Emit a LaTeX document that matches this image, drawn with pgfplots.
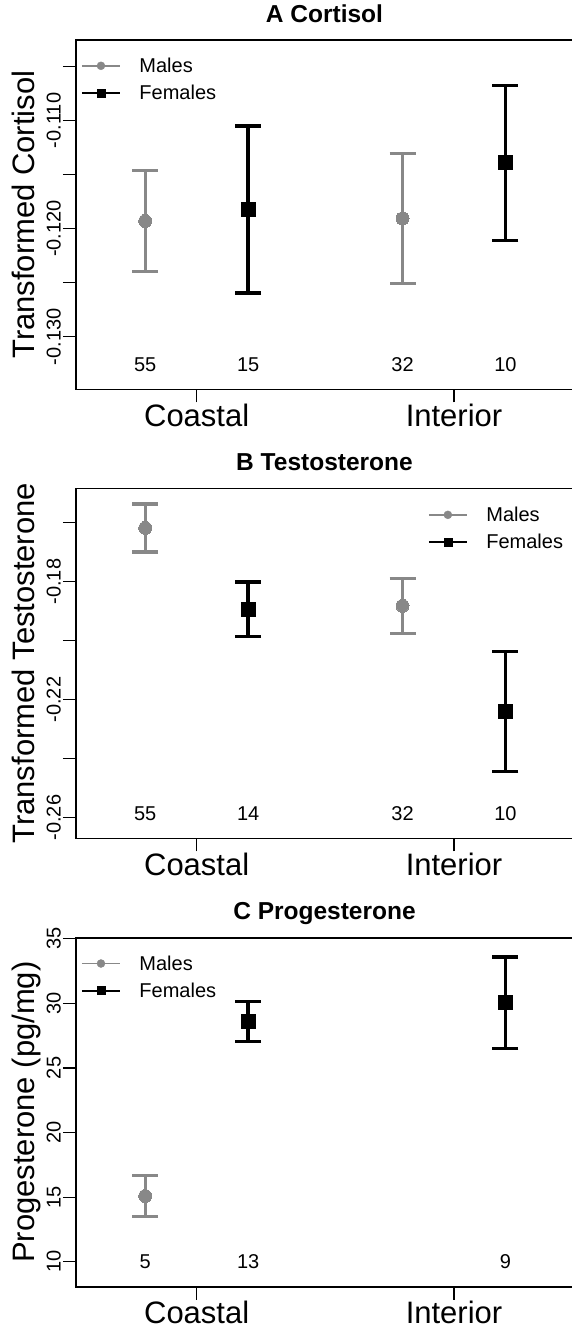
\documentclass[border=0pt]{standalone}
\usepackage{pgfplots}
\usepackage{pgfplotstable}
\pgfplotsset{compat=1.18}
\usepackage{fontspec}
\setmainfont{Liberation Sans}
\definecolor{mgray}{RGB}{136,136,136}

\pgfplotstableread{
x y e
0.8 -0.11930 0.0047
1.8 -0.11907 0.00602
}\AMales
\pgfplotstableread{
x y e
1.2 -0.11824 0.00774
2.2 -0.11393 0.00716
}\AFemales
\pgfplotstableread{
x y e
0.8 -0.16183 0.00812
1.8 -0.18822 0.0093
}\BMales
\pgfplotstableread{
x y e
1.2 -0.18934 0.0092
2.2 -0.2240 0.0203
}\BFemales
\pgfplotstableread{
x y e
0.8 15.09 1.575
}\CMales
\pgfplotstableread{
x y e
1.2 28.58 1.545
2.2 30.05 3.55
}\CFemales

\tikzset{nlab/.style={font=\fontsize{20}{24}\selectfont, inner sep=0pt, anchor=center}}
\pgfplotsset{
 panel/.style={
   scale only axis, width=497pt,
   xmin=0.531, xmax=2.4625,
   xtick={1,2}, xticklabels={Coastal,Interior},
   axis line style={line width=1.6pt},
   tick style={line width=1.2pt, black},
   major tick length=13pt, tick align=outside,
   xtick pos=left, ytick pos=left,
   xticklabel style={font=\fontsize{31}{36}\selectfont, anchor=base, inner sep=0pt, yshift=-23.7pt},
   yticklabel style={font=\fontsize{20}{24}\selectfont, xshift=-2pt, rotate=90, anchor=south, inner sep=0pt},
   every axis y label/.style={at={(axis description cs:-0.0825,0.5)}, rotate=90, anchor=base, font=\fontsize{31}{36}\selectfont},
   title style={at={(axis description cs:0.5,1)}, anchor=base, yshift=11.8pt, font=\fontsize{24.5}{28}\selectfont\bfseries},
   legend style={draw=none, fill=none, inner sep=0pt, outer sep=0pt, font=\fontsize{20}{24}\selectfont, row sep=11.1pt, column sep=18.5pt, nodes={inner sep=0pt}},
   legend cell align=left,
   clip=false,
 },
 merr/.style={only marks, mgray, mark=*, mark size=6.5pt, mark options={fill=mgray, draw=mgray, line width=0pt},
   error bars/.cd, y dir=both, y explicit, error mark=|,
   error bar style={line width=3.2pt, mgray},
   error mark options={mark size=13pt, line width=3.2pt, mgray}, /pgfplots/.cd},
 ferr/.style={only marks, black, mark=square*, mark size=7pt, mark options={fill=black, draw=black, line width=0pt},
   error bars/.cd, y dir=both, y explicit, error mark=|,
   error bar style={line width=3.4pt, black},
   error mark options={mark size=13pt, line width=3.4pt, black}, /pgfplots/.cd},
}

\begin{document}
\begin{tikzpicture}
\path[use as bounding box] (0,0) rectangle (571pt,-1328pt);

% Panel A
\begin{axis}[panel, at={(76pt,-40pt)}, anchor=north west, height=349.3pt,
  ymin=-0.13487, ymax=-0.10256,
  ytick={-0.130,-0.125,-0.120,-0.115,-0.110,-0.105},
  yticklabels={{-0.130},{},{-0.120},{},{-0.110},{}},
  ylabel={Transformed Cortisol},
  title={A Cortisol},
  legend style={at={(axis description cs:0.01,0.949)}, anchor=north west}]
\addlegendimage{legend image code/.code={\draw[mgray,line width=1.5pt] (0pt,0pt)--(38pt,0pt); \fill[mgray] (19pt,0pt) circle (4pt);}}
\addlegendentry{Males}
\addlegendimage{legend image code/.code={\draw[black,line width=2pt] (0pt,0pt)--(38pt,0pt); \fill[black] (15pt,-4pt) rectangle (23pt,4pt);}}
\addlegendentry{Females}
\addplot[forget plot, merr] table[x=x,y=y,y error=e]{\AMales};
\addplot[forget plot, ferr] table[x=x,y=y,y error=e]{\AFemales};
\node[nlab] at (axis cs:0.8,-0.13259) {55};
\node[nlab] at (axis cs:1.2,-0.13259) {15};
\node[nlab] at (axis cs:1.8,-0.13259) {32};
\node[nlab] at (axis cs:2.2,-0.13259) {10};
\end{axis}

% Panel B
\begin{axis}[panel, at={(76pt,-488.3pt)}, anchor=north west, height=350pt,
  ymin=-0.267, ymax=-0.1484,
  ytick={-0.26,-0.24,-0.22,-0.20,-0.18,-0.16},
  yticklabels={{-0.26},{},{-0.22},{},{-0.18},{}},
  ylabel={Transformed Testosterone},
  title={B Testosterone},
  legend style={at={(axis description cs:0.708,0.947)}, anchor=north west}]
\addlegendimage{legend image code/.code={\draw[mgray,line width=1.5pt] (0pt,0pt)--(38pt,0pt); \fill[mgray] (19pt,0pt) circle (4pt);}}
\addlegendentry{Males}
\addlegendimage{legend image code/.code={\draw[black,line width=2pt] (0pt,0pt)--(38pt,0pt); \fill[black] (15pt,-4pt) rectangle (23pt,4pt);}}
\addlegendentry{Females}
\addplot[forget plot, merr] table[x=x,y=y,y error=e]{\BMales};
\addplot[forget plot, ferr] table[x=x,y=y,y error=e]{\BFemales};
\node[nlab] at (axis cs:0.8,-0.2585) {55};
\node[nlab] at (axis cs:1.2,-0.2585) {14};
\node[nlab] at (axis cs:1.8,-0.2585) {32};
\node[nlab] at (axis cs:2.2,-0.2585) {10};
\end{axis}

% Panel C
\begin{axis}[panel, at={(76pt,-937.7pt)}, anchor=north west, height=349pt,
  ymin=8.07, ymax=35.08,
  ytick={10,15,20,25,30,35},
  yticklabels={{10},{15},{20},{25},{30},{35}},
  ylabel={Progesterone (pg/mg)},
  title={C Progesterone},
  legend style={at={(axis description cs:0.01,0.949)}, anchor=north west}]
\addlegendimage{legend image code/.code={\draw[mgray,line width=1.5pt] (0pt,0pt)--(38pt,0pt); \fill[mgray] (19pt,0pt) circle (4pt);}}
\addlegendentry{Males}
\addlegendimage{legend image code/.code={\draw[black,line width=2pt] (0pt,0pt)--(38pt,0pt); \fill[black] (15pt,-4pt) rectangle (23pt,4pt);}}
\addlegendentry{Females}
\addplot[forget plot, merr] table[x=x,y=y,y error=e]{\CMales};
\addplot[forget plot, ferr] table[x=x,y=y,y error=e]{\CFemales};
\node[nlab] at (axis cs:0.8,10.0) {5};
\node[nlab] at (axis cs:1.2,10.0) {13};
\node[nlab] at (axis cs:2.2,10.0) {9};
\end{axis}
\end{tikzpicture}
\end{document}
